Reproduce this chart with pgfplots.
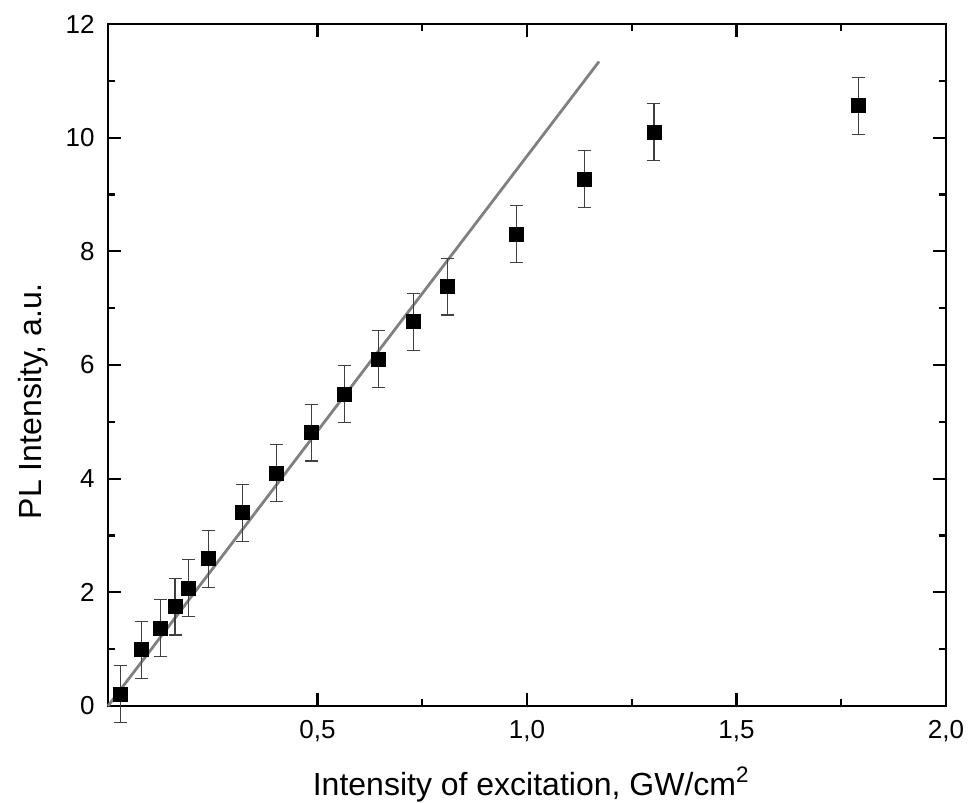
\documentclass[border=0pt]{standalone}
\usepackage{pgfplots}
\pgfplotsset{compat=1.18}
\usepackage{fontspec}
\setmainfont{Liberation Sans}
\begin{document}
\begin{tikzpicture}
\path[use as bounding box] (-54pt,-48.5pt) rectangle (430.5pt,353pt);
\begin{axis}[
  at={(0,0)}, anchor=south west,
  scale only axis,
  width=419pt, height=341pt,
  xmin=0, xmax=2, ymin=0, ymax=12,
  xtick={0.5,1,1.5,2},
  ytick={0,2,4,6,8,10,12},
  minor x tick num=1, minor y tick num=1,
  tick align=inside,
  major tick length=6.5pt, minor tick length=3.5pt,
  every tick/.style={black, line width=1.1pt},
  axis line style={line width=1.2pt},
  /pgf/number format/assume math mode=true,
  x tick label style={/pgf/number format/use comma, /pgf/number format/fixed, /pgf/number format/fixed zerofill, /pgf/number format/precision=1, yshift=-3.7pt},
  y tick label style={/pgf/number format/fixed, /pgf/number format/precision=0, xshift=-3.2pt},
  tick label style={font=\fontsize{13}{15}\selectfont},
  label style={font=\fontsize{16}{18}\selectfont},
  xlabel={Intensity of excitation, GW/cm\textsuperscript{2}},
  ylabel={PL Intensity, a.u.},
  xlabel style={at={(axis description cs:0.505,0)}, anchor=base, yshift=-44.5pt},
  ylabel style={at={(axis description cs:-0.0895,0.447)}, anchor=center},
  clip=false,
]
\addplot[gray, line width=1.4pt] coordinates {(0,0) (1.172,11.34)};
\addplot[only marks, mark=square*, mark size=3.5pt, mark options={black, fill=black},
  error bars/.cd, y dir=both, y explicit,
  error bar style={black!75, line width=0.55pt},
  error mark options={rotate=90, mark size=3.25pt, line width=0.55pt, black!75}]
  coordinates {
  (0.029,0.21) +- (0,0.5)
  (0.079,0.99) +- (0,0.5)
  (0.126,1.37) +- (0,0.5)
  (0.160,1.75) +- (0,0.5)
  (0.193,2.07) +- (0,0.5)
  (0.240,2.59) +- (0,0.5)
  (0.320,3.40) +- (0,0.5)
  (0.402,4.10) +- (0,0.5)
  (0.485,4.81) +- (0,0.5)
  (0.565,5.49) +- (0,0.5)
  (0.645,6.10) +- (0,0.5)
  (0.730,6.76) +- (0,0.5)
  (0.810,7.38) +- (0,0.5)
  (0.975,8.30) +- (0,0.5)
  (1.138,9.27) +- (0,0.5)
  (1.303,10.10) +- (0,0.5)
  (1.792,10.56) +- (0,0.5)
  };
\end{axis}
\end{tikzpicture}
\end{document}
